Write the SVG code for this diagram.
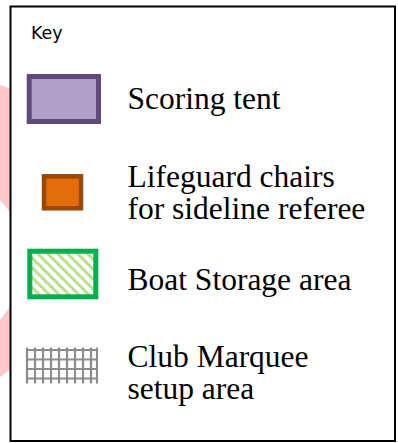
<svg xmlns="http://www.w3.org/2000/svg" width="398" height="443" viewBox="0 0 398 443">
  <defs>
    <pattern id="hatch" patternUnits="userSpaceOnUse" width="7" height="7" patternTransform="rotate(-45)">
      <rect width="7" height="7" fill="#ffffff"/>
      <rect x="0" y="0" width="2.8" height="7" fill="#b4df88"/>
    </pattern>
    <style>
      .lbl { font-family: "Liberation Serif", "Times New Roman", serif; font-size: 31.5px; fill: #000; }
      .key { font-family: "DejaVu Sans", Verdana, sans-serif; font-size: 17.5px; fill: #000; }
      .grid line { stroke: #8c8c8c; stroke-width: 2.2; }
    </style>
  </defs>
  <rect width="398" height="443" fill="#ffffff"/>
  <g id="background">
    <path d="M0,85 Q5,86 10,89 L10,212 L0,200 Z" fill="#ffc9cc"/>
    <path d="M0,320 L10,307 L10,370 L0,377 Z" fill="#ffc9cc"/>
  </g>
  <g id="key-frame">
    <rect x="10.5" y="6.5" width="384.5" height="434.5" fill="#ffffff" stroke="#000000" stroke-width="2"/>
    <text class="key" x="31" y="38.5">Key</text>
  </g>
  <g id="scoring-tent">
    <rect x="29.2" y="76.5" width="69.3" height="45" fill="#b1a0c7" stroke="#604a7b" stroke-width="5"/>
    <text class="lbl" x="127.5" y="109">Scoring tent</text>
  </g>
  <g id="lifeguard-chairs">
    <rect x="44" y="176.3" width="37" height="32" fill="#e46c0a" stroke="#984807" stroke-width="4.5"/>
    <text class="lbl" x="127.5" y="186.5">Lifeguard chairs</text>
    <text class="lbl" x="127.5" y="218.5">for sideline referee</text>
  </g>
  <g id="boat-storage">
    <rect x="29.8" y="251.2" width="66" height="45.6" fill="url(#hatch)" stroke="#00b050" stroke-width="5"/>
    <text class="lbl" x="127.5" y="290">Boat Storage area</text>
  </g>
  <g id="club-marquee">
    <g class="grid">
      <line x1="27" y1="347.5" x2="27" y2="383.5"/>
      <line x1="35" y1="347.5" x2="35" y2="383.5"/>
      <line x1="43" y1="347.5" x2="43" y2="383.5"/>
      <line x1="51" y1="347.5" x2="51" y2="383.5"/>
      <line x1="59" y1="347.5" x2="59" y2="383.5"/>
      <line x1="67" y1="347.5" x2="67" y2="383.5"/>
      <line x1="75" y1="347.5" x2="75" y2="383.5"/>
      <line x1="83" y1="347.5" x2="83" y2="383.5"/>
      <line x1="91" y1="347.5" x2="91" y2="383.5"/>
      <line x1="97" y1="347.5" x2="97" y2="383.5"/>
      <line x1="26" y1="350" x2="98" y2="350"/>
      <line x1="26" y1="359.5" x2="98" y2="359.5"/>
      <line x1="26" y1="369" x2="98" y2="369"/>
      <line x1="26" y1="378.5" x2="98" y2="378.5"/>
    </g>
    <text class="lbl" x="127.5" y="366.5">Club Marquee</text>
    <text class="lbl" x="127.5" y="398.5">setup area</text>
  </g>
</svg>
